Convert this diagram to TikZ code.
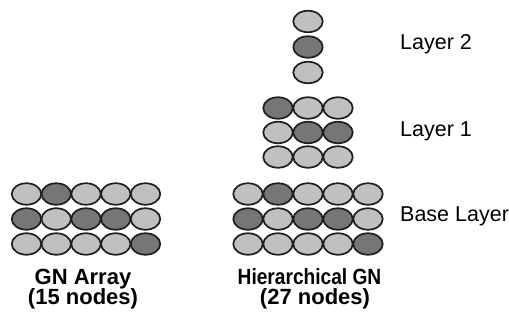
\documentclass[tikz,border=0pt]{standalone}
\usepackage{fontspec}
\setmainfont{Liberation Sans}
\usetikzlibrary{shapes.geometric}
\definecolor{lightg}{RGB}{192,192,192}
\definecolor{darkg}{RGB}{118,118,118}
\definecolor{edgeg}{RGB}{30,30,30}
\tikzset{
  gn/.style={ellipse, draw=edgeg, line width=1.7pt, minimum width=29.5pt, minimum height=21.5pt, inner sep=0pt},
  lt/.style={gn, fill=lightg},
  dk/.style={gn, fill=darkg},
  layerlbl/.style={anchor=base west, inner sep=0pt, font=\fontsize{21.5}{24}\selectfont},
  caplbl/.style={anchor=base, inner sep=0pt, font=\fontsize{22}{24}\selectfont\bfseries}
}
\begin{document}
\begin{tikzpicture}[x=1pt,y=-1pt]
\useasboundingbox (0,0) rectangle (509,320);
% GN Array (left)
\foreach \r/\y/\pat in {1/194/{lt,dk,lt,lt,lt},2/219/{dk,lt,dk,dk,lt},3/244/{lt,lt,lt,lt,dk}}{
  \foreach \s [count=\c] in \pat {
    \node[\s] (A-\r-\c) at ({26.5+29.75*(\c-1)},\y) {};
  }
}
% Hierarchical base layer
\foreach \r/\y/\pat in {1/194/{lt,dk,lt,lt,lt},2/219/{dk,lt,dk,dk,lt},3/244/{lt,lt,lt,lt,dk}}{
  \foreach \s [count=\c] in \pat {
    \node[\s] (B-\r-\c) at ({248+30*(\c-1)},\y) {};
  }
}
% Layer 1
\foreach \r/\y/\pat in {1/108/{dk,lt,lt},2/132.5/{lt,dk,dk},3/157/{lt,lt,lt}}{
  \foreach \s [count=\c] in \pat {
    \node[\s] (H-\r-\c) at ({278+30*(\c-1)},\y) {};
  }
}
% Layer 2
\node[lt] (T-1) at (308,21.5) {};
\node[dk] (T-2) at (308,47) {};
\node[lt] (T-3) at (308,72.5) {};
% Labels
\node[layerlbl] (l2) at (400,50) {Layer 2};
\node[layerlbl] (l1) at (400,137) {Layer 1};
\node[layerlbl] (l0) at (400,222) {Base Layer};
\node[caplbl] (ca1) at (83,285) {GN Array};
\node[caplbl] (ca2) at (83,305) {(15 nodes)};
\node[caplbl, xscale=0.87] (cb1) at (309.5,285) {Hierarchical GN};
\node[caplbl] (cb2) at (315,305) {(27 nodes)};
\end{tikzpicture}
\end{document}
